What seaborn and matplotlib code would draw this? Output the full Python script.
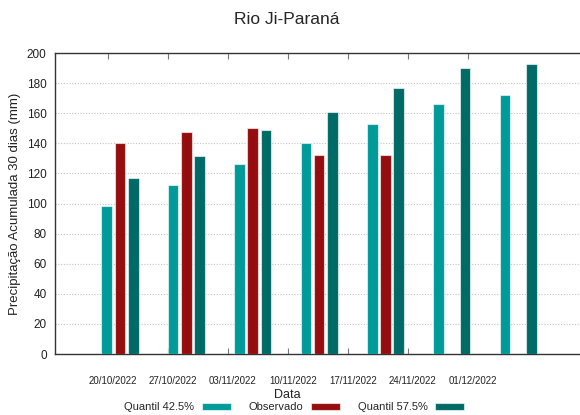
import numpy as np
import pandas as pd
import seaborn as sns
import matplotlib.pyplot as plt

datas = ['20/10/2022', '27/10/2022', '03/11/2022', '10/11/2022',
         '17/11/2022', '24/11/2022', '01/12/2022']
quantil_425 = [98.5, 112.5, 126.5, 140.5, 152.5, 166, 172]
observado = [140, 147.5, 150, 132.5, 132.5, np.nan, np.nan]
quantil_575 = [117, 131.5, 149, 160.5, 176.5, 190, 192.5]

series = ['Quantil 42.5%', 'Observado', 'Quantil 57.5%']
cores = {'Quantil 42.5%': '#009a99', 'Observado': '#960d0f', 'Quantil 57.5%': '#006a66'}

df = pd.DataFrame({
    'Data': datas * 3,
    'serie': [series[0]] * 7 + [series[1]] * 7 + [series[2]] * 7,
    'valor': quantil_425 + observado + quantil_575,
})

if __name__ == "__main__":
    sns.set_style('white')
    plt.rcParams['font.family'] = ['Liberation Sans', 'DejaVu Sans']

    fig = plt.figure(figsize=(5.8, 4.15), dpi=100)
    ax = fig.add_axes([55 / 580, 1 - 354 / 415, 1 - 55 / 580, (354 - 53) / 415])

    sns.barplot(data=df, x='Data', y='valor', hue='serie', hue_order=series,
                order=datas, palette=cores, saturation=1, width=0.6, gap=0.2,
                edgecolor=(1, 1, 1, 0.6), linewidth=0.8, errorbar=None, ax=ax, zorder=3)

    ax.set_ylim(0, 200)
    ax.set_yticks(range(0, 201, 20))
    ax.set_xlim(-0.98, 6.93)

    # gnuplot style: ticks a bit off the group centres
    passo = 60 / 66.4
    ax.set_xticks([(-12 / 66.4) + passo * k for k in range(7)], [''] * 7)
    ax.set_xticks([(-7 / 66.4) + passo * k for k in range(7)], datas, minor=True)
    ax.tick_params(axis='x', which='major', direction='in', length=4, width=0.8,
                   color='#777777', top=True, bottom=True)
    ax.tick_params(axis='x', which='minor', length=0, pad=16, labelsize=7, labelcolor='#222222')
    ax.tick_params(axis='y', direction='in', length=0, labelsize=8.5, labelcolor='#222222', pad=6)

    ax.yaxis.grid(True, color='#c4c4c4', linestyle=(0, (1, 1.5)), linewidth=0.8, zorder=0)
    ax.set_axisbelow(True)
    for lado in ['left', 'top', 'bottom']:
        ax.spines[lado].set_color('#333333')
        ax.spines[lado].set_linewidth(1.0)
    ax.spines['right'].set_visible(False)

    ax.set_ylabel('Precipitação Acumulada 30 dias (mm)', fontsize=9.5, color='#222222')
    ax.set_xlabel('Data', fontsize=9, color='#222222')
    ax.xaxis.set_label_coords((287 - 55) / 525, -(389 - 354) / 301)

    fig.text(287 / 580, 1 - 19 / 415, 'Rio Ji-Paraná', ha='center', va='center', fontsize=12.5)

    handles, labels = ax.get_legend_handles_labels()
    ax.get_legend().remove()
    fig.legend(handles, labels, loc='center', bbox_to_anchor=(294 / 580, 1 - 407 / 415),
               ncol=3, frameon=False, markerfirst=False, fontsize=8,
               handlelength=2.6, handleheight=0.6, columnspacing=1.6, handletextpad=0.7,
               borderpad=0, borderaxespad=0)

    plt.savefig('out.png', dpi=100)
